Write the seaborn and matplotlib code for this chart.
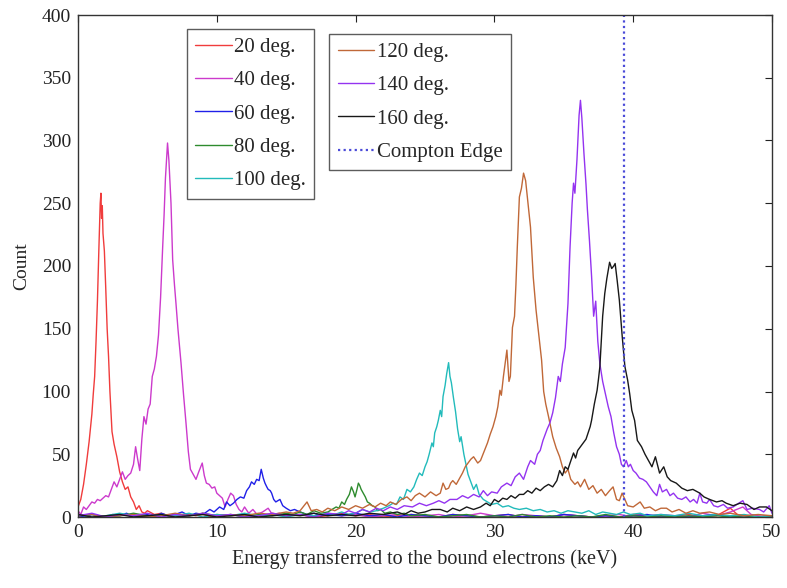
import matplotlib
matplotlib.use("Agg")
import matplotlib.pyplot as plt
import seaborn as sns
import pandas as pd

# ---------------- data (energy keV, count) ----------------
deg20 = [(0.0,8),(0.2,14),(0.4,26),(0.6,42),(0.8,60),(1.0,82),(1.1,98),(1.2,112),(1.3,140),
         (1.4,172),(1.5,212),(1.6,250),(1.65,258),(1.7,238),(1.75,248),(1.8,226),(1.9,212),
         (2.0,182),(2.1,150),(2.2,128),(2.3,100),(2.45,68),(2.6,58),(2.8,48),(3.0,36),(3.2,28),
         (3.4,22),(3.6,24),(3.8,16),(4.0,12),(4.2,6),(4.4,9),(4.6,4),(4.8,3),(5.0,5),(5.5,2),
         (6.0,3),(6.5,1),(7.0,2),(7.5,0),(8.0,2),(8.5,1),(9.0,3),(9.5,0),(10,2),(11,1),(12,2),
         (13,0),(14,3),(15,1),(16,2),(17,0),(18,1),(19,3),(20,1),(21,2),(22,0),(23,1),(24,2),
         (25,1),(26,0),(27,2),(28,1),(29,0),(30,1),(31,2),(32,0),(33,1),(34,0),(35,2),(36,1),
         (37,0),(38,1),(39,0),(40,2),(41,1),(42,0),(43,1),(44,2),(45,0),(46,1),(46.5,4),(47,7),
         (47.5,2),(48,1),(49,0),(50,1)]

deg40 = [(0.0,5),(0.2,2),(0.4,8),(0.6,6),(0.8,9),(1.0,12),(1.2,11),(1.4,14),(1.6,13),(1.8,15),
         (2.0,17),(2.2,16),(2.4,22),(2.6,28),(2.8,24),(3.0,30),(3.2,36),(3.4,30),(3.6,33),(3.8,35),
         (4.0,42),(4.15,56),(4.3,46),(4.45,37),(4.6,62),(4.75,80),(4.9,74),(5.05,86),(5.2,90),
         (5.35,112),(5.5,118),(5.65,128),(5.8,145),(5.95,175),(6.1,215),(6.2,240),(6.3,270),
         (6.45,298),(6.55,284),(6.7,250),(6.82,205),(6.95,185),(7.06,170),(7.2,150),(7.42,123),
         (7.6,98),(7.78,75),(7.95,52),(8.1,38),(8.3,34),(8.5,30),(8.7,36),(8.95,43),(9.1,33),
         (9.25,27),(9.45,26),(9.65,23),(9.85,24),(10.0,19),(10.2,17),(10.4,15),(10.6,8),(10.8,14),
         (11.0,19),(11.2,17),(11.4,10),(11.6,6),(11.8,4),(12.0,8),(12.3,3),(12.6,6),(12.9,2),
         (13.3,4),(13.7,7),(14.0,2),(14.5,3),(15,1),(16,2),(17,0),(18,3),(19,1),(20,2),(21,0),
         (22,1),(23,2),(24,0),(25,1),(26,2),(27,0),(28,1),(29,3),(30,1),(31,0),(32,2),(33,1),
         (34,0),(35,2),(36,1),(37,0),(38,1),(39,2),(40,0),(41,1),(42,2),(43,1),(44,0),(45,3),
         (46,1),(47,4),(47.9,8),(48.5,2),(49,1),(50,0)]

deg60 = [(0,1),(0.5,0),(1,2),(1.5,1),(2,0),(2.5,2),(3,1),(3.5,3),(4,0),(4.5,1),(5,2),(5.5,0),
         (6,3),(6.5,1),(7,2),(7.5,4),(8,1),(8.5,3),(9,2),(9.5,6),(9.8,4),(10.2,8),(10.5,6),
         (10.7,12),(10.95,9),(11.2,11),(11.45,14),(11.7,16),(11.95,15),(12.15,21),(12.35,24),
         (12.5,28),(12.7,26),(12.87,30),(13.05,29),(13.2,38),(13.35,31),(13.47,27),(13.6,24),
         (13.7,22),(13.85,21),(13.95,19),(14.1,14),(14.25,12),(14.4,13),(14.55,14),(14.75,9),
         (15.0,7),(15.3,5),(15.6,6),(16,4),(16.5,2),(17,3),(17.5,1),(18,2),(19,1),(20,3),(21,1),
         (22,2),(23,0),(24,2),(25,1),(26,0),(27,2),(28,1),(29,0),(30,1),(31,2),(32,0),(33,1),
         (34,0),(35,2),(36,1),(37,0),(38,1),(39,0),(40,1),(41,2),(42,0),(43,1),(44,0),(45,1),
         (46,2),(47,0),(48,1),(49,0),(50,1)]

deg80 = [(0,1),(1,2),(2,0),(3,1),(4,3),(5,1),(6,2),(7,0),(8,1),(9,3),(10,1),(11,2),(12,0),(13,2),
         (14,1),(15,3),(15.5,2),(16,4),(16.5,2),(17,5),(17.5,3),(18,4),(18.3,6),(18.6,8),(18.8,7),
         (19.0,12),(19.2,10),(19.35,14),(19.55,18),(19.7,24),(19.85,20),(19.96,16),(20.1,22),
         (20.2,27),(20.3,25),(20.4,22),(20.55,19),(20.7,16),(20.85,12),(21.0,11),(21.2,9),
         (21.4,8),(21.6,5),(21.8,6),(22.1,3),(22.5,4),(23,2),(23.5,3),(24,1),(25,2),(26,0),
         (27,1),(28,2),(29,0),(30,1),(31,0),(32,2),(33,0),(34,1),(35,0),(36,1),(37,0),(38,2),
         (39,0),(40,1),(41,0),(42,1),(43,0),(44,1),(45,0),(46,1),(47,0),(48,1),(49,0),(50,1)]

deg100 = [(0,2),(1,0),(2,1),(3,3),(4,1),(5,0),(6,2),(7,1),(8,3),(9,0),(10,2),(11,1),(12,3),(13,1),
          (14,2),(15,0),(16,2),(17,1),(18,3),(18.5,2),(19,4),(19.5,2),(20,3),(20.5,6),(21,4),
          (21.5,5),(22,7),(22.4,9),(22.7,11),(22.95,10),(23.2,16),(23.45,14),(23.7,22),(23.95,20),
          (24.2,24),(24.4,30),(24.6,35),(24.8,33),(25.0,40),(25.15,44),(25.3,50),(25.5,59),
          (25.6,56),(25.7,67),(25.85,72),(25.96,77),(26.1,85),(26.2,80),(26.3,96),(26.45,105),
          (26.56,114),(26.7,123),(26.8,112),(26.9,107),(27.05,95),(27.2,84),(27.35,70),(27.5,60),
          (27.6,64),(27.8,50),(27.95,42),(28.1,34),(28.3,28),(28.5,22),(28.7,26),(28.9,18),
          (29.2,14),(29.5,12),(29.8,10),(30.2,11),(30.6,8),(31.0,9),(31.4,7),(31.8,6),(32.3,7),
          (32.8,5),(33.3,6),(33.8,4),(34.3,5),(34.8,3),(35.3,5),(35.8,4),(36.3,3),(36.8,5),
          (37.3,2),(37.8,4),(38.3,3),(38.8,2),(39.3,4),(39.8,2),(40.5,3),(41,1),(42,2),(43,1),
          (44,3),(45,1),(46,2),(47,1),(48,2),(49,0),(50,1)]

deg120 = [(0,1),(1,2),(2,0),(3,1),(4,2),(5,0),(6,1),(7,3),(8,1),(9,2),(10,0),(11,2),(12,1),(13,3),
          (14,2),(15,4),(15.5,3),(16,5),(16.5,12),(16.8,5),(17.2,6),(17.6,4),(18,7),(18.5,5),
          (19,8),(19.5,6),(20,9),(20.5,7),(21,10),(21.4,8),(21.8,11),(22.2,9),(22.5,12),(22.9,10),
          (23.3,14),(23.7,16),(24.0,13),(24.3,17),(24.6,19),(25.0,16),(25.4,20),(25.8,17),
          (26.1,19),(26.3,27),(26.5,22),(26.7,23),(26.85,27),(27.0,29),(27.25,26),(27.5,31),
          (27.7,35),(27.9,40),(28.1,43),(28.3,46),(28.5,48),(28.8,43),(29.0,45),(29.25,52),
          (29.5,59),(29.7,66),(29.9,72),(30.1,80),(30.25,88),(30.4,101),(30.5,97),(30.65,112),
          (30.8,125),(30.9,133),(31.05,108),(31.15,112),(31.3,151),(31.45,160),(31.55,185),
          (31.65,215),(31.8,255),(31.95,262),(32.1,274),(32.25,268),(32.4,252),(32.6,231),
          (32.8,191),(33.0,165),(33.2,145),(33.4,125),(33.55,100),(33.7,90),(33.9,80),(34.05,72),
          (34.2,64),(34.45,55),(34.7,48),(34.9,40),(35.1,35),(35.3,38),(35.5,30),(35.8,26),
          (36.0,28),(36.2,24),(36.5,30),(36.8,22),(37.1,25),(37.4,19),(37.7,22),(38.0,17),
          (38.3,21),(38.55,24),(38.8,14),(39.0,13),(39.2,19),(39.6,9),(40.0,8),(40.5,12),
          (40.8,7),(41.2,8),(41.6,5),(42.0,7),(42.4,7),(42.8,4),(43.3,6),(43.8,3),(44.3,5),
          (44.8,3),(45.5,4),(46.2,2),(47,3),(48,1),(49,2),(50,1)]

deg140 = [(0,1),(1,3),(2,0),(3,2),(4,1),(5,3),(6,0),(7,2),(8,1),(9,3),(10,1),(11,2),(12,0),(13,1),
          (14,3),(15,1),(16,2),(17,0),(18,3),(19,2),(19.5,5),(20,3),(20.5,6),(21,4),(21.5,7),
          (22,5),(22.5,8),(23,6),(23.5,9),(24.1,8),(24.6,11),(25.1,9),(25.6,11),(26.0,13),
          (26.4,11),(26.8,14),(27.3,14),(27.7,17),(28.1,15),(28.5,18),(28.9,16),(29.2,21),
          (29.5,17),(29.8,20),(30.2,19),(30.5,24),(30.9,27),(31.2,25),(31.5,32),(31.8,35),
          (32.1,30),(32.4,40),(32.6,45),(32.9,42),(33.1,50),(33.3,53),(33.5,61),(33.8,70),
          (34.0,75),(34.2,83),(34.4,95),(34.6,112),(34.75,108),(34.9,122),(35.1,135),(35.3,170),
          (35.45,215),(35.6,250),(35.7,266),(35.8,258),(35.95,285),(36.1,320),(36.2,332),
          (36.3,318),(36.45,290),(36.6,265),(36.7,245),(36.85,220),(37.0,192),(37.15,160),
          (37.3,172),(37.45,140),(37.6,122),(37.8,108),(38.0,98),(38.2,88),(38.4,80),(38.6,67),
          (38.8,56),(39.0,50),(39.15,42),(39.3,40),(39.5,45),(39.65,40),(39.8,42),(40.0,37),
          (40.2,35),(40.45,31),(40.7,30),(40.95,28),(41.2,24),(41.45,20),(41.7,17),(41.9,26),
          (42.1,20),(42.4,22),(42.65,17),(42.9,19),(43.2,15),(43.5,14),(43.8,16),(44.1,12),
          (44.35,14),(44.6,11),(44.8,19),(45.0,12),(45.3,11),(45.5,14),(45.8,9),(46.1,8),
          (46.5,10),(46.8,7),(47.2,8),(47.6,11),(47.9,13),(48.2,6),(48.6,7),(49.1,6),(49.4,4),
          (49.8,9),(50,3)]

deg160 = [(0,2),(1,0),(2,1),(3,2),(4,0),(5,1),(6,2),(7,0),(8,1),(9,2),(10,0),(11,1),(12,2),(13,0),
          (14,1),(15,2),(16,1),(17,3),(18,1),(19,2),(20,1),(21,3),(22,2),(23,4),(23.5,2),(24,5),
          (24.5,3),(25,4),(25.5,6),(26.1,6),(26.6,4),(27.0,7),(27.5,5),(28.0,8),(28.5,6),(29.0,8),
          (29.4,11),(29.7,9),(30.0,14),(30.3,12),(30.6,15),(30.9,14),(31.2,17),(31.5,15),
          (31.8,18),(32.1,18),(32.4,21),(32.7,19),(33.0,23),(33.3,21),(33.6,24),(33.9,26),
          (34.2,24),(34.5,29),(34.7,37),(34.9,33),(35.1,40),(35.3,38),(35.45,43),(35.7,51),
          (35.85,47),(36.0,53),(36.2,56),(36.4,59),(36.6,62),(36.75,67),(36.9,72),(37.0,77),
          (37.2,90),(37.4,101),(37.5,110),(37.6,120),(37.7,140),(37.8,160),(37.95,178),
          (38.1,190),(38.3,203),(38.45,198),(38.6,200),(38.7,202),(38.85,188),(39.0,173),
          (39.2,145),(39.4,120),(39.6,109),(39.75,98),(39.9,85),(40.1,77),(40.3,61),(40.6,56),
          (40.85,50),(41.1,45),(41.35,40),(41.6,48),(41.9,35),(42.2,40),(42.45,32),(42.7,29),
          (43.1,27),(43.5,23),(43.9,21),(44.3,22),(44.8,19),(45.1,16),(45.5,14),(46.0,12),
          (46.4,13),(46.7,11),(47.2,9),(47.7,11),(48.2,10),(48.7,6),(49.1,8),(49.6,8),(50,5)]

compton_edge = 39.35

series_labels = ["20 deg.", "40 deg.", "60 deg.", "80 deg.", "100 deg.",
                 "120 deg.", "140 deg.", "160 deg."]
series_data = [deg20, deg40, deg60, deg80, deg100, deg120, deg140, deg160]
series_colors = ["#F03C3C", "#CC3ACC", "#2020E8", "#2E8B2E", "#22BBBB",
                 "#C06838", "#9433F0", "#181818"]
edge_label = "Compton Edge"
edge_color = "#4B4BD8"

x_ticks = [0, 10, 20, 30, 40, 50]
y_ticks = [0, 50, 100, 150, 200, 250, 300, 350, 400]
x_label = "Energy transferred to the bound electrons (keV)"
y_label = "Count"

# ---------------- plotting ----------------
sns.set_style("white")
plt.rcParams["font.family"] = ["Liberation Serif", "DejaVu Serif"]

fig = plt.figure(figsize=(7.87, 5.88), dpi=100)
ax = fig.add_axes([78 / 787, 1 - 517 / 588, 694 / 787, 502 / 588])

for lab, data, col in zip(series_labels, series_data, series_colors):
    df = pd.DataFrame(data, columns=["energy", "count"])
    sns.lineplot(data=df, x="energy", y="count", ax=ax, color=col,
                 linewidth=1.0, errorbar=None, legend=False)

edge_line = ax.axvline(compton_edge, color=edge_color, linestyle=(0, (1, 1.5)),
                       linewidth=1.6)

lines = ax.get_lines()[:8]

ax.set_xlim(0, 50)
ax.set_ylim(0, 400)
ax.set_xticks(x_ticks)
ax.set_yticks(y_ticks)
ax.tick_params(direction="in", length=5, width=0.8, top=True, right=True,
               labelsize=14, pad=5, colors="#222222")
ax.set_xlabel(x_label, fontsize=14.5, labelpad=6)
ax.set_ylabel(y_label, fontsize=14, labelpad=8)
for sp in ax.spines.values():
    sp.set_color("#333333")
    sp.set_linewidth(1.0)

leg_kw = dict(loc="upper left", borderaxespad=0, fontsize=15, frameon=True,
              fancybox=False, shadow=False, handlelength=1.75, handletextpad=0.12,
              labelspacing=0.66, borderpad=0.4)

leg1 = ax.legend(lines[:5], series_labels[:5], bbox_to_anchor=(0.157, 0.972), **leg_kw)
leg1.get_frame().set_edgecolor("#333333")
leg1.get_frame().set_linewidth(1.0)
ax.add_artist(leg1)

leg2 = ax.legend(lines[5:] + [edge_line], series_labels[5:] + [edge_label],
                 bbox_to_anchor=(0.362, 0.962), **leg_kw)
leg2.get_frame().set_edgecolor("#333333")
leg2.get_frame().set_linewidth(1.0)

fig.savefig("out.png", dpi=100, facecolor="white")
